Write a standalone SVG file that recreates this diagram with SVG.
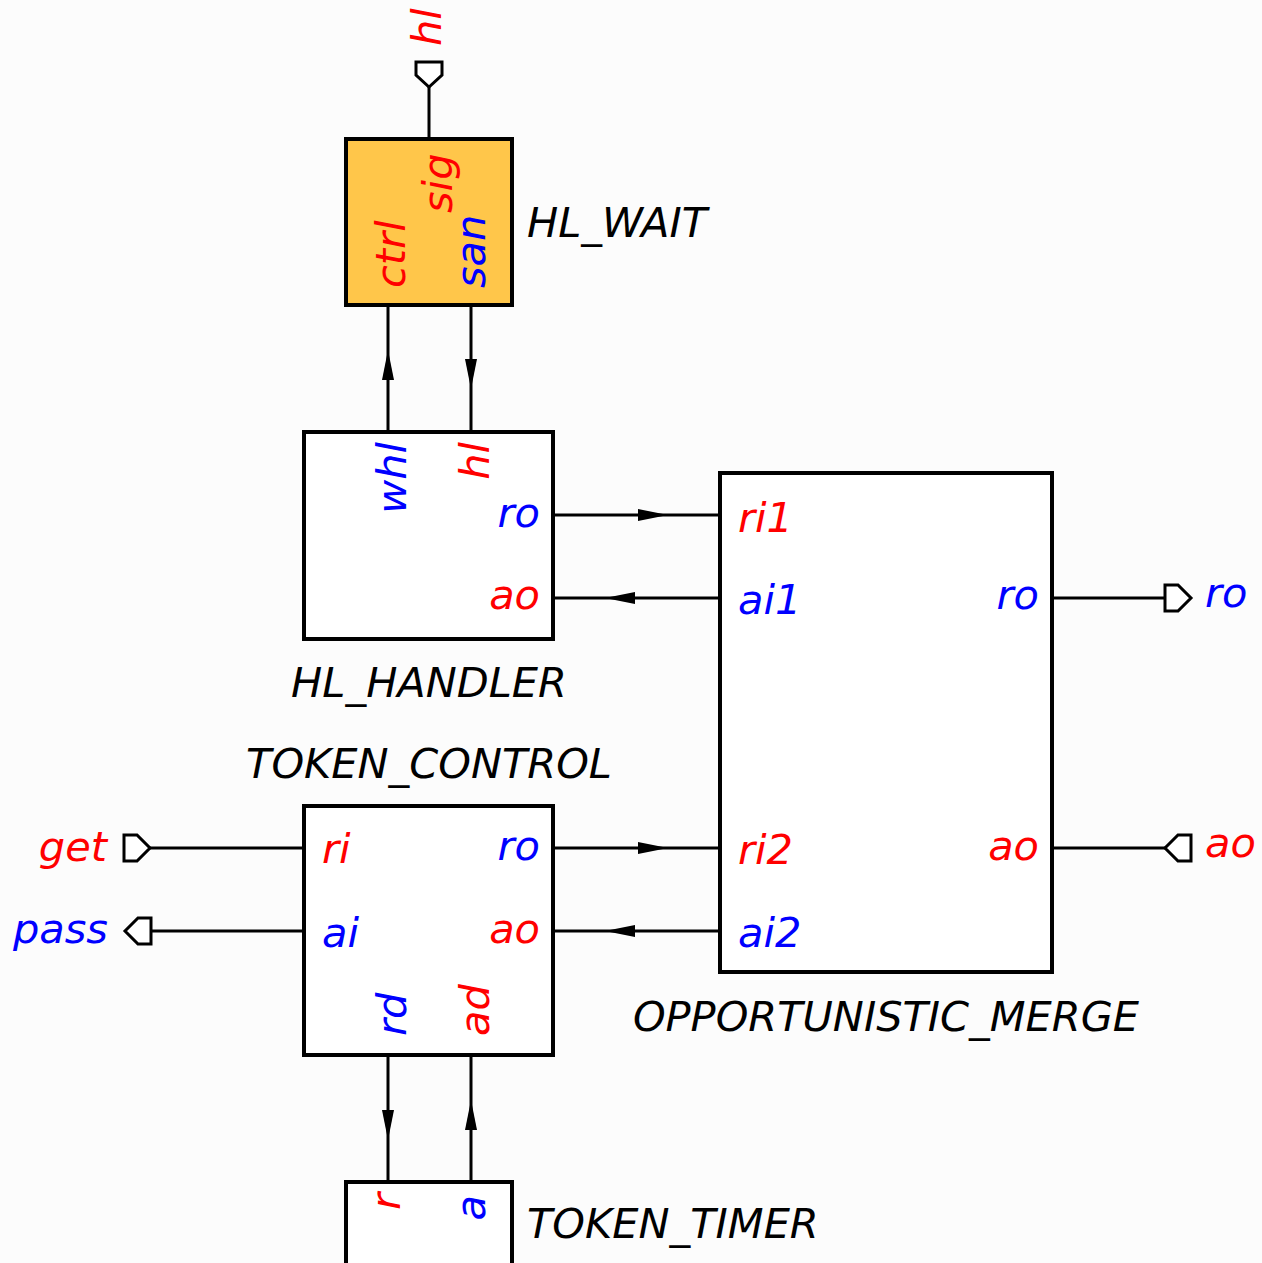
<svg xmlns="http://www.w3.org/2000/svg" width="1262" height="1263" viewBox="0 0 1262 1263">
<defs>
<style>
text{font-family:"DejaVu Sans","Liberation Sans",sans-serif;font-style:italic;font-size:41.5px}
.r{fill:#ff0000}.b{fill:#0000ff}.k{fill:#000}
.box{fill:#ffffff;stroke:#000;stroke-width:4}
.wait{fill:#ffc64a}
.w{fill:none;stroke:#000;stroke-width:3}
.port{fill:#ffffff;stroke:#000;stroke-width:3}
.e{text-anchor:end}.m{text-anchor:middle}
</style>
<marker id="ah" markerUnits="userSpaceOnUse" markerWidth="32" markerHeight="14" refX="30" refY="7" orient="auto" viewBox="0 0 32 14">
<path d="M0,1 L30,7 L0,13 Z" fill="#000"/>
</marker>
</defs>
<rect width="1262" height="1263" fill="#fcfcfc"/>
<g id="connectors">
<polyline class="w" points="388,432 388,350 388,305" marker-mid="url(#ah)"/>
<polyline class="w" points="471,305 471,389 471,432" marker-mid="url(#ah)"/>
<polyline class="w" points="553,515 668,515 720,515" marker-mid="url(#ah)"/>
<polyline class="w" points="720,598 605,598 553,598" marker-mid="url(#ah)"/>
<polyline class="w" points="553,848 668,848 720,848" marker-mid="url(#ah)"/>
<polyline class="w" points="720,931 605,931 553,931" marker-mid="url(#ah)"/>
<polyline class="w" points="388,1055 388,1140 388,1182" marker-mid="url(#ah)"/>
<polyline class="w" points="471,1182 471,1100 471,1055" marker-mid="url(#ah)"/>
<line class="w" x1="429" y1="87" x2="429" y2="139"/>
<line class="w" x1="1052" y1="598" x2="1165" y2="598"/>
<line class="w" x1="1052" y1="848" x2="1165" y2="848"/>
<line class="w" x1="150" y1="848" x2="304" y2="848"/>
<line class="w" x1="151" y1="931" x2="304" y2="931"/>
</g>
<g id="port_hl">
<polygon class="port" points="416,62 442,62 442,75 429,87 416,75"/>
<text class="r" transform="translate(441,46) rotate(-90)">hl</text>
</g>
<g id="port_ro">
<polygon class="port" points="1165,585 1178,585 1191,598 1178,611 1165,611"/>
<text class="b" x="1205" y="607">ro</text>
</g>
<g id="port_ao">
<polygon class="port" points="1191,835 1191,861 1178,861 1165,848 1178,835"/>
<text class="r" x="1205" y="857">ao</text>
</g>
<g id="port_get">
<polygon class="port" points="124,835 137,835 150,848 137,861 124,861"/>
<text class="r e" x="107" y="861">get</text>
</g>
<g id="port_pass">
<polygon class="port" points="151,918 151,944 138,944 125,931 138,918"/>
<text class="b e" x="108" y="943">pass</text>
</g>
<g id="HL_WAIT">
<rect class="box wait" x="346" y="139" width="166" height="166"/>
<text class="r" transform="translate(452,213) rotate(-90)">sig</text>
<text class="r" transform="translate(405,288) rotate(-90)">ctrl</text>
<text class="b" transform="translate(485,288) rotate(-90)">san</text>
<text class="k" x="527" y="237">HL_WAIT</text>
</g>
<g id="HL_HANDLER">
<rect class="box" x="304" y="432" width="249" height="207"/>
<text class="b e" transform="translate(406,442) rotate(-90)">whl</text>
<text class="r e" transform="translate(489,442) rotate(-90)">hl</text>
<text class="b e" x="540" y="527">ro</text>
<text class="r e" x="540" y="609">ao</text>
<text class="k m" x="429" y="697">HL_HANDLER</text>
</g>
<g id="OPPORTUNISTIC_MERGE">
<rect class="box" x="720" y="473" width="332" height="499"/>
<text class="r" x="738" y="532">ri1</text>
<text class="b" x="738" y="614">ai1</text>
<text class="b e" x="1039" y="609">ro</text>
<text class="r" x="738" y="864">ri2</text>
<text class="b" x="738" y="947">ai2</text>
<text class="r e" x="1039" y="860">ao</text>
<text class="k m" x="886" y="1031">OPPORTUNISTIC_MERGE</text>
</g>
<g id="TOKEN_CONTROL">
<rect class="box" x="304" y="806" width="249" height="249"/>
<text class="k m" x="429" y="778">TOKEN_CONTROL</text>
<text class="r" x="322" y="863">ri</text>
<text class="b" x="322" y="947">ai</text>
<text class="b e" x="540" y="860">ro</text>
<text class="r e" x="540" y="943">ao</text>
<text class="b" transform="translate(406,1036) rotate(-90)">rd</text>
<text class="r" transform="translate(489,1036) rotate(-90)">ad</text>
</g>
<g id="TOKEN_TIMER">
<rect class="box" x="346" y="1182" width="166" height="110"/>
<text class="r e" transform="translate(400,1193) rotate(-90)">r</text>
<text class="b e" transform="translate(485,1195) rotate(-90)">a</text>
<text class="k" x="527" y="1238">TOKEN_TIMER</text>
</g>
</svg>
